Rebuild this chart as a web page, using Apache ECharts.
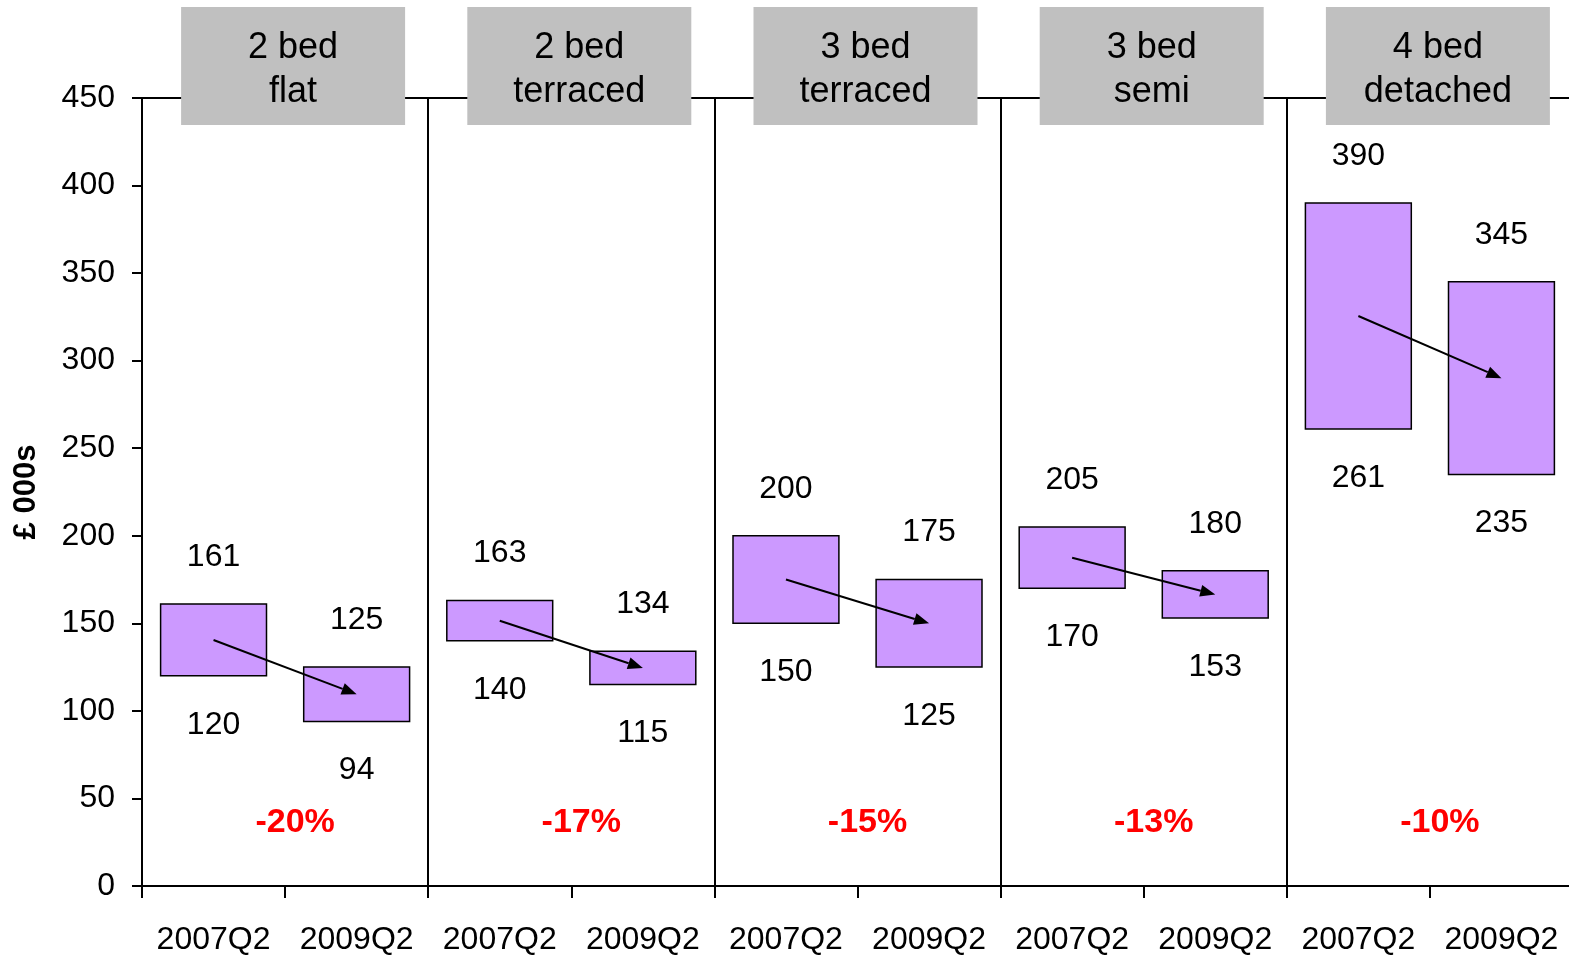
<!DOCTYPE html>
<html>
<head>
<meta charset="utf-8">
<script src="https://cdn.jsdelivr.net/npm/echarts@6/dist/echarts.min.js"></script>
<style>
  html, body { margin: 0; padding: 0; background: #fff; }
  #chart { width: 1569px; height: 955px; }
</style>
</head>
<body>
<div id="chart"></div>
<script>
// categories & values
const categories = ['2007Q2', '2009Q2', '2007Q2', '2009Q2', '2007Q2', '2009Q2', '2007Q2', '2009Q2', '2007Q2', '2009Q2'];
const groupNames = ['2 bed\nflat', '2 bed\nterraced', '3 bed\nterraced', '3 bed\nsemi', '4 bed\ndetached'];
const lows = [120, 94, 140, 115, 150, 125, 170, 153, 261, 235];
const highs = [161, 125, 163, 134, 200, 175, 205, 180, 390, 345];
const changes = ['-20%', '-17%', '-15%', '-13%', '-10%'];
const yTicks = [0, 50, 100, 150, 200, 250, 300, 350, 400, 450];

const FONT = '"Liberation Sans", Arial, sans-serif';

let boxData = categories.map((c, i) => [i, lows[i], highs[i]]);
let arrowData = groupNames.map((g, k) => {
  let a = 2 * k, b = 2 * k + 1;
  return [a, (lows[a] + highs[a]) / 2, b, (lows[b] + highs[b]) / 2];
});
let groupData = groupNames.map((g, k) => [2 * k, 2 * k + 1]);

let myChart = echarts.init(document.getElementById('chart'));
myChart.setOption({
  animation: false,
  grid: { left: 142, top: 98, bottom: 69, width: 1431, outerBoundsMode: 'none', containLabel: false },
  xAxis: [{
    type: 'category',
    data: categories,
    boundaryGap: true,
    axisLine: { lineStyle: { color: '#000', width: 2 } },
    axisTick: { show: true, interval: 0, length: 12, lineStyle: { color: '#000', width: 2 } },
    axisLabel: { interval: 0, color: '#000', fontSize: 32, fontFamily: FONT, margin: 38 },
    // separators between house types
    splitLine: {
      show: true,
      interval: function (index) { return index === 2 || index === 4 || index === 6 || index === 8; },
      lineStyle: { color: '#000', width: 2 }
    }
  }, {
    type: 'category',
    position: 'top',
    data: categories,
    axisLine: { show: true, lineStyle: { color: '#000', width: 2 } },
    axisTick: { show: false },
    axisLabel: { show: false }
  }],
  yAxis: {
    type: 'value',
    min: 0,
    max: 450,
    interval: 50,
    name: '£ 000s',
    nameLocation: 'middle',
    nameRotate: 90,
    nameGap: 100,
    nameTextStyle: { color: '#000', fontSize: 31, fontWeight: 'bold', fontFamily: FONT },
    axisLine: { show: true, lineStyle: { color: '#000', width: 2 } },
    axisTick: { show: true, length: 10, lineStyle: { color: '#000', width: 2 } },
    axisLabel: {
      color: '#000', fontSize: 32, fontFamily: FONT, margin: 27,
      formatter: function (v) { return yTicks.indexOf(v) >= 0 ? String(v) : ''; }
    },
    splitLine: { show: false }
  },
  series: [
    {
      // floating boxes low..high
      type: 'custom',
      name: 'range',
      data: boxData,
      encode: { x: 0, y: [1, 2] },
      z: 3,
      renderItem: function (params, api) {
        let i = api.value(0), lo = api.value(1), hi = api.value(2);
        let pTop = api.coord([i, hi]);
        let pBot = api.coord([i, lo]);
        let w = api.size([1, 0])[0] * 0.74;
        return {
          type: 'group',
          children: [
            {
              type: 'rect',
              shape: { x: pTop[0] - w / 2, y: pTop[1], width: w, height: pBot[1] - pTop[1] },
              style: { fill: '#CC99FF', stroke: '#000', lineWidth: 1.5 }
            },
            {
              type: 'text',
              style: { text: String(hi), x: pTop[0], y: pTop[1] - 47, align: 'center', verticalAlign: 'middle',
                       font: '32px ' + FONT, fill: '#000' }
            },
            {
              type: 'text',
              style: { text: String(lo), x: pBot[0], y: pBot[1] + 49, align: 'center', verticalAlign: 'middle',
                       font: '32px ' + FONT, fill: '#000' }
            }
          ]
        };
      }
    },
    {
      // arrows from 2007 box centre to 2009 box centre
      type: 'custom',
      name: 'arrows',
      data: arrowData,
      encode: { x: [0, 2], y: [1, 3] },
      z: 4,
      renderItem: function (params, api) {
        let p0 = api.coord([api.value(0), api.value(1)]);
        let p1 = api.coord([api.value(2), api.value(3)]);
        let ang = Math.atan2(p1[1] - p0[1], p1[0] - p0[0]);
        let L = 15, H = 6;
        let bx = p1[0] - L * Math.cos(ang), by = p1[1] - L * Math.sin(ang);
        let nx = -Math.sin(ang) * H, ny = Math.cos(ang) * H;
        return {
          type: 'group',
          children: [
            { type: 'line', shape: { x1: p0[0], y1: p0[1], x2: bx, y2: by }, style: { stroke: '#000', lineWidth: 2 } },
            { type: 'polygon', shape: { points: [[p1[0], p1[1]], [bx + nx, by + ny], [bx - nx, by - ny]] }, style: { fill: '#000' } }
          ]
        };
      }
    },
    {
      // grey header boxes and red % change
      type: 'custom',
      name: 'groups',
      data: groupData,
      encode: { x: [0, 1] },
      z: 5,
      clip: false,
      renderItem: function (params, api) {
        let k = params.dataIndex;
        let a = api.coord([api.value(0), 450]);
        let b = api.coord([api.value(1), 450]);
        let cx = (a[0] + b[0]) / 2;
        let top = a[1];
        let lines = groupNames[k].split('\n');
        let pct = api.coord([api.value(0), 36]);
        return {
          type: 'group',
          children: [
            { type: 'rect', shape: { x: cx + 8 - 112, y: top - 91, width: 224, height: 118 }, style: { fill: '#C0C0C0' } },
            { type: 'text', style: { text: lines[0], x: cx + 8, y: top - 50, align: 'center', verticalAlign: 'middle', font: '36px ' + FONT, fill: '#000' } },
            { type: 'text', style: { text: lines[1], x: cx + 8, y: top - 6, align: 'center', verticalAlign: 'middle', font: '36px ' + FONT, fill: '#000' } },
            { type: 'text', style: { text: changes[k], x: cx + 10, y: pct[1], align: 'center', verticalAlign: 'middle', font: 'bold 34px ' + FONT, fill: '#FF0000' } }
          ]
        };
      }
    }
  ]
});
</script>
</body>
</html>
